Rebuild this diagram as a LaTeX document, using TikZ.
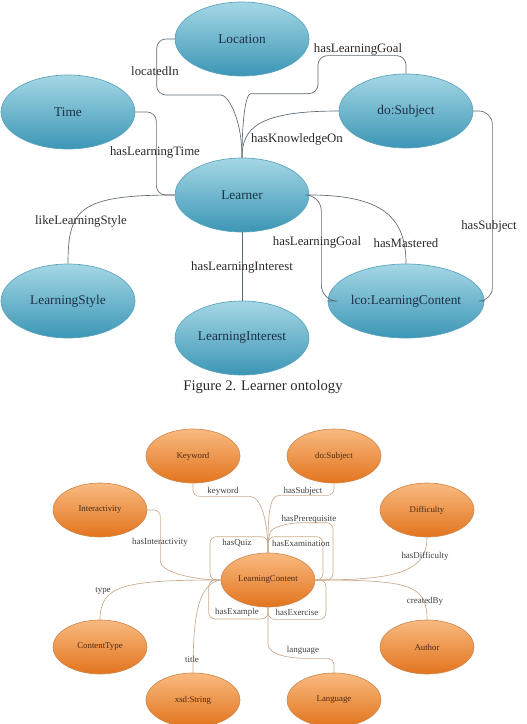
\documentclass[tikz,border=0pt]{standalone}
\usepackage{fontspec}
\setmainfont{Liberation Serif}
\usetikzlibrary{shapes.geometric}
\definecolor{cBlueTop}{HTML}{A4D7E5}
\definecolor{cBlueBot}{HTML}{3C96B5}
\definecolor{cBlueEdge}{HTML}{5AA3BD}
\definecolor{cBlueInk}{HTML}{1C2F45}
\definecolor{cOrgTop}{HTML}{F9BA80}
\definecolor{cOrgBot}{HTML}{E2741E}
\definecolor{cOrgEdge}{HTML}{D08A50}
\definecolor{cOrgInk}{HTML}{4A2A12}
\definecolor{cUpLine}{HTML}{5E6872}
\definecolor{cLowLine}{HTML}{C9AA8C}
\definecolor{cText}{HTML}{2A2A2A}
\tikzset{
  upclass/.style={ellipse,draw=cBlueEdge,line width=0.5pt,top color=cBlueTop,bottom color=cBlueBot,
                  minimum width=100.5pt,minimum height=55.5pt,inner sep=0pt,
                  font=\fontsize{10}{12}\selectfont,text=cBlueInk},
  lowclass/.style={ellipse,draw=cOrgEdge,line width=0.5pt,top color=cOrgTop,bottom color=cOrgBot,
                   minimum width=70.5pt,minimum height=40.5pt,inner sep=0pt,
                   font=\fontsize{6.6}{8}\selectfont,text=cOrgInk},
  uplink/.style={draw=cUpLine,line width=0.5pt,rounded corners=7pt},
  lowlink/.style={draw=cLowLine,line width=0.5pt,rounded corners=5pt},
  uplabel/.style={font=\fontsize{9.6}{11}\selectfont,text=cText,inner sep=0pt},
  lowlabel/.style={font=\fontsize{6.7}{8}\selectfont,text=cText!90,inner sep=0pt},
  caption/.style={font=\fontsize{11}{13}\selectfont,text=cText}
}
\begin{document}
\begin{tikzpicture}[x=0.75pt,y=-0.75pt]
  \useasboundingbox (0,0) rectangle (526,724);

  % Learner ontology
  \node[upclass] (loc) at (242,39) {Location};
  \node[upclass] (time) at (68,112) {Time};
  \node[upclass] (sub) at (406,111) {do:Subject};
  \node[upclass] (lea) at (242,195) {Learner};
  \node[upclass] (sty) at (68,301) {LearningStyle};
  \node[upclass] (lco) at (406,301) {lco:LearningContent};
  \node[upclass] (int) at (242,338) {LearningInterest};

  \draw[uplink] (loc.west) -- ++(-18,0) -- ++(0,56) -- ++(55,0)
    .. controls +(16,0) and +(0,-40) .. (lea.north);
  \draw[uplink] (sub.north) -- ++(0,-18) -- ++(-88,0) -- ++(0,38) -- ++(-58,0)
    .. controls +(-14,0) and +(0,-40) .. (lea.north);
  \draw[uplink] (sub.west) .. controls +(-80,0) and +(0,-30) .. (lea.north);
  \draw[uplink] (time.east) -- ++(21,0) |- (lea.west);
  \draw[uplink] (lea.west) .. controls +(-95,0) and +(0,-55) .. (sty.north);
  \draw[uplink] (lea.south) -- (int.north);
  \draw[uplink,rounded corners=12pt] (lea.east) -- ++(12,0) |- (lco.west);
  \draw[uplink] (lea.east) .. controls +(75,0) and +(0,-45) .. (lco.north);
  \draw[uplink,rounded corners=10pt] (sub.east) -- ++(19,0) |- (lco.east);

  \node[uplabel] (lbIn) at (155,71) {locatedIn};
  \node[uplabel] (lbGoalA) at (358,49) {hasLearningGoal};
  \node[uplabel] (lbKnow) at (297,139) {hasKnowledgeOn};
  \node[uplabel] (lbTime) at (155,152) {hasLearningTime};
  \node[uplabel] (lbStyle) at (81,221) {likeLearningStyle};
  \node[uplabel] (lbInt) at (242,267) {hasLearningInterest};
  \node[uplabel] (lbGoalB) at (317,242) {hasLearningGoal};
  \node[uplabel] (lbMast) at (406,243) {hasMastered};
  \node[uplabel] (lbSub) at (489,226) {hasSubject};

  \node[caption] (capA) at (263,387) {Figure 2. Learner ontology};

  % Learning content ontology
  \node[lowclass] (kw) at (193,456) {Keyword};
  \node[lowclass] (dsub) at (334,456) {do:Subject};
  \node[lowclass] (intr) at (100,510) {Interactivity};
  \node[lowclass] (diff) at (427,510) {Difficulty};
  \node[lowclass] (lc) at (268,580) {LearningContent};
  \node[lowclass] (ctype) at (100,647) {ContentType};
  \node[lowclass] (auth) at (427,647) {Author};
  \node[lowclass] (str) at (193,700) {xsd:String};
  \node[lowclass] (lang) at (334,700) {Language};

  \draw[lowlink] (kw.south) -- ++(0,13) -- ++(50,0)
    .. controls +(18,0) and +(0,-32) .. (lc.north);
  \draw[lowlink] (dsub.south) -- ++(0,12) -- ++(-48,0)
    .. controls +(-18,0) and +(0,-32) .. (lc.north);
  \draw[lowlink] (lc.north) -- ++(0,-14) .. controls +(4,-12) and +(-18,0) .. ++(40,-16)
    -- ++(25,0) |- (lc.east);
  \draw[lowlink] (lc.north) -- ++(0,-16) -- ++(55,0) |- (lc.east);
  \draw[lowlink] (lc.north) -- ++(0,-16) -- ++(-58,0) |- (lc.west);
  \draw[lowlink] (lc.west) -- ++(-12,0) -- ++(0,39) -| (lc.south);
  \draw[lowlink] (lc.south) -- ++(0,12) -- ++(58,0) |- (lc.east);
  \draw[lowlink] (intr.east) -- ++(13,0) -- ++(0,45)
    .. controls +(0,16) and +(-30,0) .. (lc.west);
  \draw[lowlink] (lc.west) .. controls +(-95,0) and +(0,-35) .. (ctype.north);
  \draw[lowlink] (lc.west) .. controls +(-22,4) and +(0,-60) .. (str.north);
  \draw[lowlink] (lc.south) -- ++(0,30) .. controls +(0,18) and +(-22,0) .. ++(45,21)
    -| (lang.north);
  \draw[lowlink] (diff.south) .. controls +(0,35) and +(80,0) .. (lc.east);
  \draw[lowlink] (lc.east) .. controls +(95,0) and +(0,-35) .. (auth.north);

  \node[lowlabel] (lbKw) at (223,491) {keyword};
  \node[lowlabel] (lbSub2) at (303,491) {hasSubject};
  \node[lowlabel] (lbPre) at (309,519) {hasPrerequisite};
  \node[lowlabel] (lbInter) at (160,542) {hasInteractivity};
  \node[lowlabel] (lbQuiz) at (237,543) {hasQuiz};
  \node[lowlabel] (lbExam) at (301,543) {hasExamination};
  \node[lowlabel] (lbDiff) at (425,556) {hasDifficulty};
  \node[lowlabel] (lbType) at (103,591) {type};
  \node[lowlabel] (lbBy) at (425,601) {createdBy};
  \node[lowlabel] (lbExa) at (237,612) {hasExample};
  \node[lowlabel] (lbExe) at (297,612) {hasExercise};
  \node[lowlabel] (lbTitle) at (192,659) {title};
  \node[lowlabel] (lbLang) at (303,650) {language};
\end{tikzpicture}
\end{document}
